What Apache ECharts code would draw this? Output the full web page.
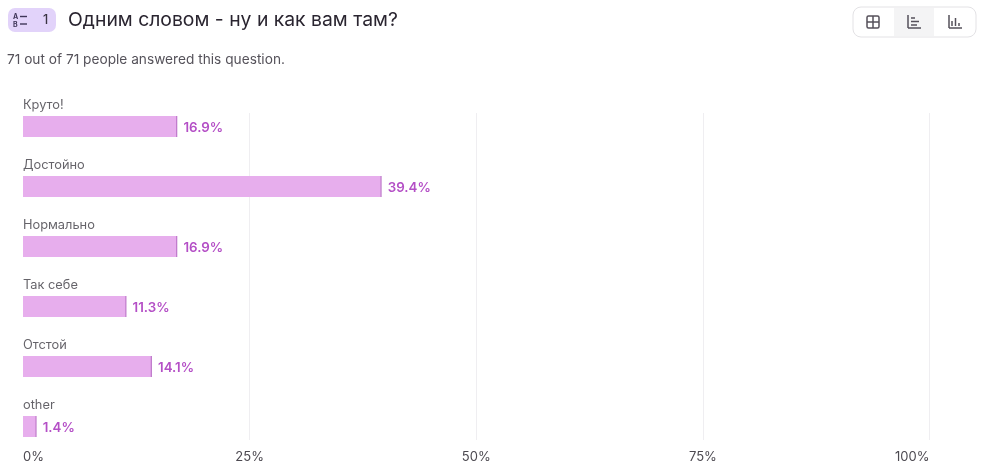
<!DOCTYPE html>
<html><head><meta charset="utf-8">
<style>html,body{margin:0;padding:0;background:#fff}#c{width:989px;height:476px}</style>
<script src="https://cdn.jsdelivr.net/npm/echarts@6/dist/echarts.min.js"></script>
</head><body><div id="c"></div>
<script>
const categories = ['Круто!', 'Достойно', 'Нормально', 'Так себе', 'Отстой', 'other'];
const shares = [16.9, 39.4, 16.9, 11.3, 14.1, 1.4];
const titleText = 'Одним словом - ну и как вам там?';
const subtitleText = '71 out of 71 people answered this question.';
const FONT = 'Inter, "Noto Sans", sans-serif';
const chart = echarts.init(document.getElementById('c'), null, {renderer:'canvas'});
const ICON = '#55505a';
function seg(x1,y1,x2,y2,color,w){return {type:'line',shape:{x1,y1,x2,y2},style:{stroke:color||ICON,lineWidth:w||1.5},silent:true};}
chart.setOption({
  animation:false,
  backgroundColor:'#fff',
  grid:[
    {left:23, width:908, top:96.5, height:360},
    {left:23, width:906.5, top:113, height:327}
  ],
  xAxis:[
    {gridIndex:0,type:'value',min:0,max:100,show:false},
    {gridIndex:1,type:'value',min:0,max:100,interval:25,
     axisLine:{show:false},axisTick:{show:false},
     splitLine:{show:true,showMinLine:false,lineStyle:{color:'#efeef1',width:1}},
     axisLabel:{formatter:'{value}%',color:'#4c4950',fontFamily:FONT,fontSize:13,margin:11,alignMinLabel:'left',alignMaxLabel:'right'}}
  ],
  yAxis:[
    {gridIndex:0,type:'category',inverse:true,data:categories,
     axisLine:{show:false},axisTick:{show:false},splitLine:{show:false},axisLabel:{show:false}},
    {gridIndex:1,type:'value',min:0,max:1,show:false}
  ],
  series:[
    {type:'bar',xAxisIndex:0,yAxisIndex:0,data:shares,barWidth:21,
     itemStyle:{color:'#e7aeed'},
     label:{show:true,position:'right',distance:7,offset:[0,1],formatter:p=>p.value.toFixed(1)+'%',color:'#b44fc6',fontFamily:FONT,fontSize:13.3,fontWeight:600}},
    {type:'scatter',xAxisIndex:0,yAxisIndex:0,data:shares.map((v,i)=>[v,i]),symbol:'rect',symbolSize:[1,21],symbolOffset:[0.3,0],
     itemStyle:{color:'#a03fb2'},silent:true,z:3},
    {type:'scatter',xAxisIndex:0,yAxisIndex:0,data:categories.map((c,i)=>[0,i]),symbolSize:0,silent:true,z:4,
     label:{show:true,position:'right',distance:0,offset:[0,-21.5],formatter:p=>categories[p.dataIndex],color:'#3f3c44',fontFamily:FONT,fontSize:12.8}}
  ],
  graphic:[
    {type:'rect',shape:{x:8,y:8,width:48,height:24,r:7},style:{fill:'#e2d3fa'},silent:true},
    {type:'text',x:13,y:13,style:{text:'A',font:'bold 7px '+FONT,fill:'#3f3558'},silent:true},
    {type:'text',x:13,y:21,style:{text:'B',font:'bold 7px '+FONT,fill:'#3f3558'},silent:true},
    seg(20,16.5,27,16.5,'#3f3558',1.4),
    seg(20,24,27,24,'#3f3558',1.4),
    {type:'text',x:43,y:13.5,style:{text:'1',font:'500 12.5px '+FONT,fill:'#3a3342'},silent:true},
    {type:'text',x:68,y:10.5,style:{text:titleText,font:'400 19.35px '+FONT,fill:'#2a2530'},silent:true},
    {type:'text',x:7,y:52.5,style:{text:subtitleText,font:'400 13.7px '+FONT,fill:'#55525a'},silent:true},
    {type:'rect',shape:{x:853,y:7,width:123,height:30,r:8},style:{fill:'#fff',stroke:'#e3e2e5',lineWidth:1},silent:true},
    {type:'rect',shape:{x:894,y:8,width:40,height:28},style:{fill:'#f4f4f5'},silent:true},
    {type:'rect',shape:{x:867,y:16,width:12,height:12,r:1.5},style:{fill:'none',stroke:ICON,lineWidth:1.5},silent:true},
    seg(873,16,873,28), seg(867,22,879,22),
    seg(908,15,908,28), seg(908,28,921,28), seg(911,18,915,18), seg(911,21.5,919,21.5), seg(911,25,917,25),
    seg(949,15,949,28), seg(949,28,962,28), seg(952,21,952,26), seg(955.5,18,955.5,26), seg(959,23,959,26)
  ]
});
</script></body></html>
